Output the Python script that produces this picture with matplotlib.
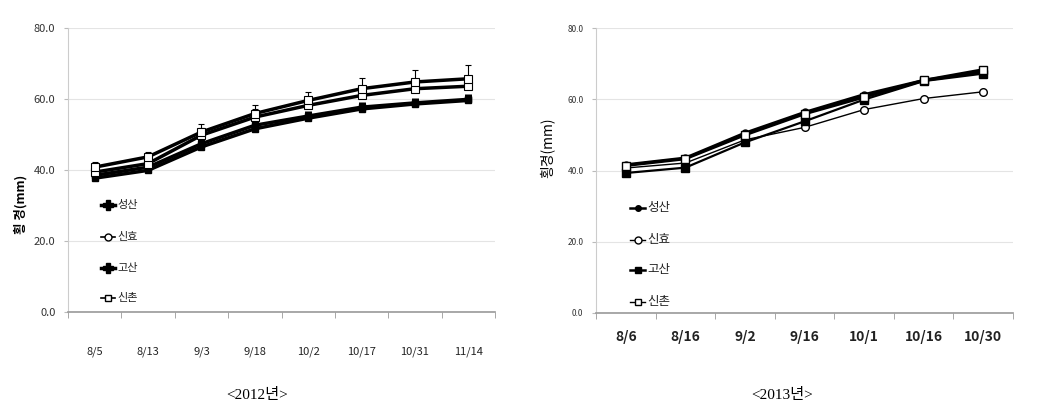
import matplotlib
matplotlib.use("Agg")
import matplotlib.pyplot as plt
from matplotlib.lines import Line2D

plt.rcParams['font.family'] = ['Noto Sans CJK KR', 'DejaVu Sans']

# ---- data ----
series_names = ['성산', '신효', '고산', '신촌']

dates_2012 = ['8/5', '8/13', '9/3', '9/18', '10/2', '10/17', '10/31', '11/14']
seongsan_2012 = [38.5, 40.8, 47.4, 52.6, 55.2, 57.7, 58.9, 59.9]
sinhyo_2012 = [39.4, 41.8, 49.8, 54.9, 58.2, 61.0, 62.9, 63.6]
gosan_2012 = [37.7, 39.9, 46.5, 51.6, 54.6, 57.2, 58.6, 59.6]
sinchon_2012 = [40.8, 43.7, 50.7, 55.9, 59.6, 62.9, 64.8, 65.7]
err_sinhyo_2012 = [1.5, 1.5, 2.0, 2.3, 2.2, 2.5, 2.8, 3.0]
err_sinchon_2012 = [1.5, 1.5, 2.3, 2.5, 2.3, 3.0, 3.5, 4.0]
err_black_2012 = [1.5, 1.5, 1.5, 1.5, 1.5, 1.5, 1.5, 1.5]

dates_2013 = ['8/6', '8/16', '9/2', '9/16', '10/1', '10/16', '10/30']
seongsan_2013 = [41.6, 43.5, 50.5, 56.3, 61.3, 65.3, 67.7]
sinhyo_2013 = [40.7, 42.1, 48.6, 52.1, 57.1, 60.2, 62.1]
gosan_2013 = [39.3, 40.8, 47.9, 53.8, 59.9, 65.1, 67.2]
sinchon_2013 = [41.4, 43.3, 50.0, 55.9, 60.6, 65.3, 68.3]

yticks = [0, 20, 40, 60, 80]
ytick_labels = ['0.0', '20.0', '40.0', '60.0', '80.0']

fig = plt.figure(figsize=(10.39, 4.18), dpi=100)
W, H = 1039, 418

def px_axes(x0, x1, y0, y1):
    return fig.add_axes([x0 / W, 1 - y1 / H, (x1 - x0) / W, (y1 - y0) / H])

def style_axes(ax, ncat, labels, xfs, xbold, yfs, xpad):
    ax.set_ylim(0, 80)
    ax.set_xlim(-0.5, ncat - 0.5)
    ax.set_yticks(yticks)
    ax.set_yticklabels(ytick_labels, fontsize=yfs, color='#333333')
    ax.set_xticks(range(ncat))
    ax.set_xticklabels(labels, fontsize=xfs, fontweight='bold' if xbold else 'normal', color='#222222')
    ax.set_xticks([i + 0.5 for i in range(-1, ncat)], minor=True)
    ax.tick_params(axis='x', which='major', length=0, pad=xpad)
    ax.tick_params(axis='x', which='minor', length=4, color='#999999', direction='out')
    ax.tick_params(axis='y', length=3, color='#bbbbbb', pad=6)
    ax.grid(axis='y', color='#e4e4e4', linewidth=0.8)
    ax.set_axisbelow(True)
    for s in ['top', 'right']:
        ax.spines[s].set_visible(False)
    ax.spines['left'].set_color('#cccccc')
    ax.spines['bottom'].set_color('#999999')
    ax.spines['bottom'].set_linewidth(1.2)

def manual_legend(entries, ys, x_line0, x_line1, x_text, fs):
    for (name, lw, marker, ms, mfc), y in zip(entries, ys):
        fy = 1 - y / H
        fig.add_artist(Line2D([x_line0 / W, x_line1 / W], [fy, fy], color='black', lw=lw,
                              transform=fig.transFigure))
        fig.add_artist(Line2D([(x_line0 + x_line1) / 2 / W], [fy], color='black', lw=0,
                              marker=marker, ms=ms, mfc=mfc, mec='black',
                              transform=fig.transFigure))
        fig.text(x_text / W, fy, name, ha='left', va='center', fontsize=fs, color='#222222')

# ---- 2012 ----
ax1 = px_axes(68, 495, 28, 312)
x1 = list(range(len(dates_2012)))
ax1.errorbar(x1, seongsan_2012, yerr=[[0]*len(x1), err_black_2012], color='black', lw=2.5,
             marker='s', ms=5, mfc='black', mec='black', elinewidth=5, capsize=0, zorder=3)
ax1.errorbar(x1, gosan_2012, yerr=[[0]*len(x1), err_black_2012], color='black', lw=2.5,
             marker='s', ms=5, mfc='black', mec='black', elinewidth=5, capsize=0, zorder=3)
ax1.errorbar(x1, sinhyo_2012, yerr=[[0]*len(x1), err_sinhyo_2012], color='black', lw=2.5,
             marker='s', ms=6, mfc='white', mec='black', mew=0.8, elinewidth=0.8, capsize=2, zorder=4)
ax1.errorbar(x1, sinchon_2012, yerr=[[0]*len(x1), err_sinchon_2012], color='black', lw=2.5,
             marker='s', ms=6, mfc='white', mec='black', mew=0.8, elinewidth=0.8, capsize=2, zorder=4)
style_axes(ax1, len(dates_2012), dates_2012, 8, False, 8, 25)
ax1.set_ylabel('횡 경(mm)', fontsize=9, fontweight='bold')
ax1.yaxis.set_label_coords(-0.095, 0.38)
manual_legend([(series_names[0], 2.5, 'P', 7, 'black'),
               (series_names[1], 1.2, 'o', 5, 'white'),
               (series_names[2], 2.5, 'P', 7, 'black'),
               (series_names[3], 1.2, 's', 5, 'white')],
              [205, 237, 268, 298], 101, 115, 117, 8)

# ---- 2013 ----
ax2 = px_axes(596, 1013, 28, 313)
x2 = list(range(len(dates_2013)))
ax2.plot(x2, seongsan_2013, color='black', lw=2.2, marker='o', ms=5, mfc='black', mec='black', zorder=3)
ax2.plot(x2, sinhyo_2013, color='black', lw=1.0, marker='o', ms=5.5, mfc='white', mec='black', zorder=3)
ax2.plot(x2, gosan_2013, color='black', lw=1.6, marker='s', ms=5.5, mfc='black', mec='black', zorder=3)
ax2.plot(x2, sinchon_2013, color='black', lw=2.2, marker='s', ms=6, mfc='white', mec='black', zorder=4)
style_axes(ax2, len(dates_2013), dates_2013, 10, True, 6, 12)
ax2.set_ylabel('횡경(mm)', fontsize=10)
ax2.yaxis.set_label_coords(-0.1, 0.58)
manual_legend([(series_names[0], 1.8, 'o', 4, 'black'),
               (series_names[1], 1.0, 'o', 5, 'white'),
               (series_names[2], 1.8, 's', 4, 'black'),
               (series_names[3], 1.0, 's', 5, 'white')],
              [208, 240, 270, 302], 630, 645, 647, 9)

fig.text(257 / W, 1 - 395 / H, '<2012년>', ha='center', va='center', fontsize=11,
         family=['Liberation Serif', 'Noto Sans CJK KR'])
fig.text(782 / W, 1 - 395 / H, '<2013년>', ha='center', va='center', fontsize=11,
         family=['Liberation Serif', 'Noto Sans CJK KR'])

fig.savefig('out.png', dpi=100)
